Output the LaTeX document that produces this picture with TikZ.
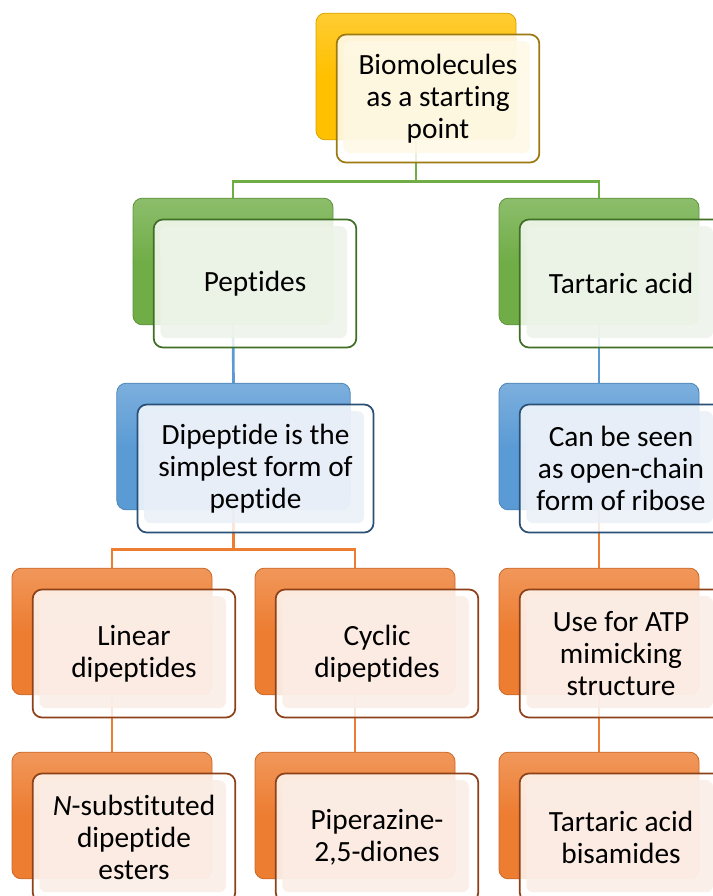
\documentclass[tikz,border=0pt]{standalone}
\usepackage{fontspec}
\setmainfont{Carlito}[Ligatures={NoCommon}]
\usetikzlibrary{backgrounds}
\definecolor{goldA}{HTML}{FFC000}
\definecolor{goldB}{HTML}{9C7A10}
\definecolor{goldC}{HTML}{FEF8E4}
\definecolor{grnA}{HTML}{70AD47}
\definecolor{grnB}{HTML}{3F6F25}
\definecolor{grnC}{HTML}{EDF4E8}
\definecolor{bluA}{HTML}{5B9BD5}
\definecolor{bluB}{HTML}{2A5078}
\definecolor{bluC}{HTML}{E9EFF7}
\definecolor{orgA}{HTML}{ED7D31}
\definecolor{orgB}{HTML}{8E4018}
\definecolor{orgC}{HTML}{FBEDE5}
\begin{document}
\begin{tikzpicture}[x=0.75pt,y=-0.75pt,
  back/.style={rectangle, rounded corners=7pt, minimum width=150pt, minimum height=95pt,
    draw=#1A!85!black, line width=0.6pt, top color=#1A!80!white, bottom color=#1A, middle color=#1A},
  front/.style={rectangle, rounded corners=7pt, minimum width=152pt, minimum height=96pt,
    draw=#1B, line width=1.3pt, fill=white, fill opacity=0.82, text opacity=1, align=center,
    font=\fontsize{22}{24}\selectfont,
    path picture={\fill[#1C, rounded corners=5pt]
      ([shift={(5pt,-5pt)}]path picture bounding box.north west) rectangle
      ([shift={(-7pt,7pt)}]path picture bounding box.south east);}},
  link/.style={draw=#1A, line width=2pt}]
\path[use as bounding box, clip] (0,0) rectangle (713,896);
\node [back=gold] (bio-b) at (416,76.5) {};
\node [back=grn] (pep-b) at (233,261.5) {};
\node [back=grn] (tar-b) at (599,261.5) {};
\node [back=blu, minimum width=175pt] (dip-b) at (233.5,446.5) {};
\node [back=blu] (ribo-b) at (599,446.5) {};
\node [back=org] (lin-b) at (112,631.5) {};
\node [back=org] (cyc-b) at (355,631.5) {};
\node [back=org] (atp-b) at (599,631.5) {};
\node [back=org] (nsub-b) at (112,815.5) {};
\node [back=org] (pip-b) at (355,815.5) {};
\node [back=org] (bis-b) at (599,815.5) {};
\begin{pgfonlayer}{background}
\draw [link=grn] (bio-b.south) -- ++(0,41) -| (pep-b.north);
\draw [link=grn] (bio-b.south) -- ++(0,41) -| (tar-b.north);
\draw [link=blu] (pep-b.south) -- (dip-b.north);
\draw [link=blu] (tar-b.south) -- (ribo-b.north);
\draw [link=org] (dip-b.south) -- ++(0,39) -| (lin-b.north);
\draw [link=org] (dip-b.south) -- ++(0,39) -| (cyc-b.north);
\draw [link=org] (ribo-b.south) -- (atp-b.north);
\draw [link=org] (lin-b.south) -- (nsub-b.north);
\draw [link=org] (cyc-b.south) -- (pip-b.north);
\draw [link=org] (atp-b.south) -- (bis-b.north);
\end{pgfonlayer}
\node [front=gold] (bio) at ([shift={(22,22)}]bio-b.center) {Biomolecules\\as a starting\\point};
\node [front=grn] (pep) at ([shift={(22,22)}]pep-b.center) {Peptides};
\node [front=grn] (tar) at ([shift={(22,22)}]tar-b.center) {Tartaric acid};
\node [front=blu, minimum width=177pt] (dip) at ([shift={(22,22)}]dip-b.center) {Dipeptide is the\\simplest form of\\peptide};
\node [front=blu] (ribo) at ([shift={(22,22)}]ribo-b.center) {Can be seen\\as open-chain\\form of ribose};
\node [front=org] (lin) at ([shift={(22,22)}]lin-b.center) {Linear\\dipeptides};
\node [front=org] (cyc) at ([shift={(22,22)}]cyc-b.center) {Cyclic\\dipeptides};
\node [front=org] (atp) at ([shift={(22,22)}]atp-b.center) {Use for ATP\\mimicking\\structure};
\node [front=org] (nsub) at ([shift={(22,22)}]nsub-b.center) {\textit{N}-substituted\\dipeptide\\esters};
\node [front=org] (pip) at ([shift={(22,22)}]pip-b.center) {Piperazine-\\2,5-diones};
\node [front=org] (bis) at ([shift={(22,22)}]bis-b.center) {Tartaric acid\\bisamides};
\end{tikzpicture}
\end{document}
